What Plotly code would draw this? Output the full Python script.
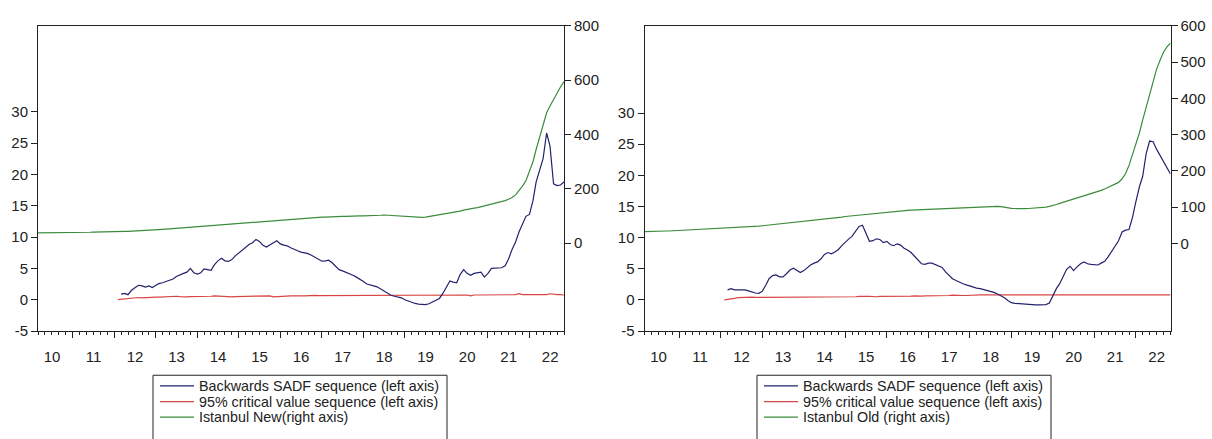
import pandas as pd
import plotly.graph_objects as go

# Monthly sample 2010M03 - 2022M11
months = pd.date_range("2010-03-01", "2022-11-01", freq="MS")

# Istanbul New house price index (right axis), 2010M03 onwards
new_price = [
    38, 38, 38, 38, 38.5, 39, 39, 39, 39, 39.5,
    39.5, 40, 40, 40, 40.5, 40.5, 41, 41, 41.5, 41.5, 42, 42,
    42.5, 43, 43, 43.5, 44, 44.5, 45, 45.5, 46, 46.5, 47, 48,
    49, 50, 51, 52, 53, 54, 55, 56, 57, 58, 58.5, 59,
    60, 61, 62, 63, 64, 65, 66, 67, 68, 69, 70, 71,
    72, 73, 74, 75, 76, 77, 78, 79, 80, 81, 82, 84,
    86, 87, 88, 89, 90, 90, 91, 92, 93, 94, 95, 95,
    96, 96, 97, 97, 98, 98, 99, 99, 100, 100, 100, 101,
    101, 101, 102, 102, 102, 103, 104, 103, 102, 101, 100, 99,
    98, 97, 97, 96, 95, 95, 96, 98, 100, 102, 104, 106,
    108, 110, 112, 115, 118, 122, 125, 127, 129, 131, 134, 137,
    140, 143, 146, 149, 152, 157, 162, 168, 178, 192, 210, 230,
    265, 300, 345, 390, 435, 480, 505, 530, 555, 575, 595,
]

# Backwards SADF sequence, Istanbul New, 2012M03 onwards
new_bsadf = [
    0.9, 1.0, 0.8, 1.5, 1.9, 2.3, 2.2, 2.0, 2.2, 1.95,
    2.3, 2.6, 2.7, 2.9, 3.0, 3.3, 3.7, 4.0, 4.2, 4.4, 5.0, 4.3,
    4.1, 4.3, 4.9, 4.8, 4.7, 5.6, 6.2, 6.6, 6.2, 6.1, 6.4, 7.0,
    7.5, 8.0, 8.4, 8.8, 9.1, 9.6, 9.3, 8.7, 8.4, 8.8, 9.1, 9.4,
    8.9, 8.7, 8.6, 8.3, 8.0, 7.8, 7.6, 7.5, 7.35, 7.1, 6.8, 6.5,
    6.15, 6.2, 6.3, 5.9, 5.3, 4.8, 4.6, 4.4, 4.2, 3.9, 3.6, 3.3,
    2.9, 2.5, 2.3, 2.2, 2.05, 1.7, 1.4, 1.0, 0.7, 0.55, 0.45, 0.3,
    0.0, -0.25, -0.45, -0.6, -0.7, -0.75, -0.8, -0.65, -0.4, -0.1, 0.2, 1.0,
    2.0, 3.0, 2.8, 2.7, 4.0, 4.8, 4.2, 3.9, 4.2, 4.3, 4.4, 3.6,
    4.2, 5.0, 5.0, 5.0, 5.1, 5.4, 6.5, 8.0, 9.2, 10.8, 12.0, 13.3,
    13.6, 15.8, 18.8, 20.8, 22.5, 26.6, 24.5, 18.5, 18.2, 18.3, 18.8,
]

# 95% critical value sequence, Istanbul New, 2012M02 onwards
new_cv = [
    0.0, 0.05, 0.15, 0.25, 0.3, 0.3, 0.35, 0.3, 0.35, 0.4, 0.35, 0.4,
    0.4, 0.45, 0.5, 0.45, 0.5, 0.55, 0.5, 0.45, 0.45, 0.5, 0.5, 0.45,
    0.45, 0.5, 0.5, 0.55, 0.6, 0.55, 0.5, 0.5, 0.45, 0.45, 0.5, 0.5,
    0.5, 0.55, 0.55, 0.6, 0.6, 0.55, 0.55, 0.6, 0.6, 0.45, 0.5, 0.55,
    0.55, 0.6, 0.6, 0.6, 0.65, 0.6, 0.6, 0.65, 0.7, 0.7, 0.65, 0.65,
    0.7, 0.75, 0.7, 0.7, 0.75, 0.75, 0.7, 0.7, 0.75, 0.75, 0.75, 0.7,
    0.75, 0.75, 0.7, 0.7, 0.75, 0.75, 0.75, 0.75, 0.7, 0.75, 0.75, 0.75,
    0.75, 0.75, 0.75, 0.75, 0.7, 0.75, 0.75, 0.75, 0.75, 0.75, 0.7, 0.75,
    0.75, 0.75, 0.75, 0.7, 0.75, 0.75, 0.6, 0.75, 0.75, 0.75, 0.75, 0.75,
    0.75, 0.75, 0.8, 0.8, 0.75, 0.75, 0.75, 0.8, 0.95, 0.8, 0.8, 0.8,
    0.8, 0.8, 0.8, 0.8, 0.8, 0.95, 0.85, 0.8, 0.8, 0.75,
]

# Istanbul Old house price index (right axis), 2010M03 onwards
old_price = [
    32.5, 33, 33, 33, 33.5, 33.5, 34, 34, 34.5, 34.5,
    35, 35.5, 36, 36, 36.5, 37, 37.5, 38, 38.5, 39, 39.5, 40.5,
    41, 41.5, 42, 42.5, 43, 43.5, 44, 44.5, 45, 45.5, 46.5, 47.5,
    48.5, 49.5, 50.5, 51.5, 52.5, 53.5, 54, 54.5, 55.5, 56.5, 57.5, 58.5,
    59.5, 60.5, 61.5, 62.5, 63.5, 64.5, 66, 67, 68, 69.5, 71, 72.5,
    74, 75, 76, 77, 78, 79, 80, 81, 82.5, 83.5, 85, 86,
    87, 88, 88.5, 89, 90, 90.5, 91, 91.5, 92, 92.5, 93, 93.5,
    94, 94.5, 95, 95.5, 96, 96.5, 97, 97, 97.5, 98, 98, 98.5,
    99, 99, 99.5, 100, 100, 100.5, 101, 101.5, 102, 101, 99, 97.5,
    96.5, 96, 95.5, 95.5, 95.5, 96, 96.5, 97, 98, 99, 100, 102,
    104, 107, 110, 113, 117, 120, 123, 126, 128, 131, 134, 137,
    139, 142, 146, 150, 154, 158, 162, 168, 178, 192, 215, 245,
    272, 305, 340, 375, 410, 445, 480, 505, 528, 542, 553,
]

# Backwards SADF sequence, Istanbul Old, 2012M03 onwards
old_bsadf = [
    1.6, 1.8, 1.6, 1.6, 1.7, 1.6, 1.45, 1.25, 1.1, 1.05,
    1.4, 2.4, 3.4, 3.9, 4.0, 3.7, 3.7, 4.2, 4.8, 5.1, 4.7, 4.4,
    4.7, 5.2, 5.6, 5.9, 6.1, 6.6, 7.3, 7.6, 7.4, 7.7, 8.1, 8.7,
    9.3, 9.8, 10.2, 11.0, 11.8, 12.0, 10.8, 9.4, 9.5, 9.8, 9.7, 9.2,
    9.4, 8.9, 8.7, 9.0, 8.8, 8.3, 8.0, 7.6, 7.0, 6.4, 5.8, 5.7,
    5.9, 5.9, 5.7, 5.5, 5.2, 4.5, 3.9, 3.4, 3.1, 2.8, 2.6, 2.4,
    2.2, 2.1, 1.9, 1.8, 1.65, 1.55, 1.4, 1.2, 0.95, 0.7, 0.35, -0.1,
    -0.45, -0.55, -0.6, -0.6, -0.65, -0.7, -0.8, -0.8, -0.8, -0.8, -0.75, -0.5,
    0.7, 1.8, 2.6, 3.8, 4.9, 5.4, 4.7, 5.3, 5.8, 6.1, 5.8, 5.7,
    5.6, 5.6, 5.9, 6.2, 6.9, 7.8, 8.5, 9.5, 10.9, 11.2, 11.3, 13.2,
    15.8, 18.2, 19.8, 23.5, 25.5, 25.4, 24.2, 23.2, 22.0, 21.0, 20.2,
]

# 95% critical value sequence, Istanbul Old, 2012M02 onwards
old_cv = [
    0.0, 0.05, 0.15, 0.25, 0.35, 0.4, 0.4, 0.4, 0.45, 0.4, 0.4, 0.45,
    0.4, 0.45, 0.45, 0.45, 0.5, 0.45, 0.45, 0.45, 0.5, 0.5, 0.45, 0.45,
    0.5, 0.45, 0.5, 0.45, 0.5, 0.5, 0.5, 0.45, 0.45, 0.5, 0.5, 0.45,
    0.45, 0.5, 0.5, 0.55, 0.5, 0.55, 0.55, 0.5, 0.5, 0.55, 0.55, 0.6,
    0.55, 0.55, 0.5, 0.55, 0.55, 0.6, 0.6, 0.65, 0.6, 0.6, 0.65, 0.65,
    0.6, 0.6, 0.65, 0.7, 0.7, 0.7, 0.75, 0.7, 0.7, 0.7, 0.7, 0.75,
    0.75, 0.8, 0.8, 0.8, 0.8, 0.8, 0.85, 0.8, 0.8, 0.8, 0.8, 0.8,
    0.8, 0.8, 0.8, 0.8, 0.8, 0.8, 0.8, 0.8, 0.8, 0.8, 0.8, 0.8,
    0.8, 0.8, 0.8, 0.8, 0.8, 0.8, 0.8, 0.8, 0.85, 0.85, 0.8, 0.8,
    0.8, 0.85, 0.8, 0.85, 0.85, 0.8, 0.85, 0.8, 0.8, 0.85, 0.85, 0.8,
    0.85, 0.85, 0.9, 0.8, 0.8, 0.85, 0.9, 0.85, 0.8, 0.8,
]

left_ticks = [-5, 0, 5, 10, 15, 20, 25, 30]
left_tick_text = ["-5", "0", "5", "10", "15", "20", "25", "30"]
new_right_ticks = [0, 200, 400, 600, 800]
old_right_ticks = [0, 100, 200, 300, 400, 500, 600]

legend_labels_new = [
    "Backwards SADF sequence (left axis)",
    "95% critical value sequence (left axis)",
    "Istanbul New(right axis)",
]
legend_labels_old = [
    "Backwards SADF sequence (left axis)",
    "95% critical value sequence (left axis)",
    "Istanbul Old (right axis)",
]

BLUE = "#22226e"
RED = "#d94545"
GREEN = "#3b8c3b"
INK = "#222222"
FONT = "Liberation Sans, Arial, sans-serif"

W, H = 1212, 439

bsadf_dates = months[24:]
cv_dates = months[23:]

fig = go.Figure()

# Left panel: Istanbul New
fig.add_trace(go.Scatter(x=months, y=new_price, xaxis="x", yaxis="y2",
                         mode="lines", line=dict(color=GREEN, width=1.2),
                         name=legend_labels_new[2]))
fig.add_trace(go.Scatter(x=cv_dates, y=new_cv, xaxis="x", yaxis="y",
                         mode="lines", line=dict(color=RED, width=1.2),
                         name=legend_labels_new[1]))
fig.add_trace(go.Scatter(x=bsadf_dates, y=new_bsadf, xaxis="x", yaxis="y",
                         mode="lines", line=dict(color=BLUE, width=1.2),
                         name=legend_labels_new[0]))

# Right panel: Istanbul Old
fig.add_trace(go.Scatter(x=months, y=old_price, xaxis="x2", yaxis="y4",
                         mode="lines", line=dict(color=GREEN, width=1.2),
                         name=legend_labels_old[2]))
fig.add_trace(go.Scatter(x=cv_dates, y=old_cv, xaxis="x2", yaxis="y3",
                         mode="lines", line=dict(color=RED, width=1.2),
                         name=legend_labels_old[1]))
fig.add_trace(go.Scatter(x=bsadf_dates, y=old_bsadf, xaxis="x2", yaxis="y3",
                         mode="lines", line=dict(color=BLUE, width=1.2),
                         name=legend_labels_old[0]))

ydom = [1 - 335.0 / H, 1 - 17.5 / H]
tickfont = dict(family=FONT, size=15, color=INK)


def xaxis_cfg(domain, anchor):
    return dict(
        domain=domain, anchor=anchor, type="date",
        range=[months[0], months[-1]],
        showline=True, linecolor=INK, linewidth=1, mirror=True,
        showgrid=False, zeroline=False,
        ticks="outside", ticklen=6, tickcolor=INK,
        dtick="M12", tick0="2010-01-01", tickformat="%y",
        ticklabelmode="period", tickfont=tickfont, ticklabelstandoff=6,
        minor=dict(ticks="outside", ticklen=3, tickcolor=INK,
                   dtick="M2", tick0="2010-01-01", showgrid=False),
    )


def left_y(anchor, rng):
    return dict(
        domain=ydom, anchor=anchor, range=rng,
        tickmode="array", tickvals=left_ticks, ticktext=left_tick_text,
        showline=True, linecolor=INK, linewidth=1, mirror=True,
        showgrid=False, zeroline=False,
        ticks="outside", ticklen=6, tickcolor=INK, tickfont=tickfont,
    )


def right_y(anchor, over, rng, vals):
    return dict(
        anchor=anchor, overlaying=over, side="right", range=rng,
        tickmode="array", tickvals=vals,
        showline=True, linecolor=INK, linewidth=1,
        showgrid=False, zeroline=False,
        ticks="outside", ticklen=6, tickcolor=INK, tickfont=tickfont,
    )


fig.update_layout(
    width=W, height=H,
    margin=dict(l=0, r=0, t=0, b=0),
    paper_bgcolor="white", plot_bgcolor="white",
    showlegend=False,
    font=dict(family=FONT, size=14, color=INK),
    xaxis=xaxis_cfg([38 / W, 564 / W], "y"),
    yaxis=left_y("x", [-5, 43.7]),
    yaxis2=right_y("x", "y", [-323, 800], new_right_ticks),
    xaxis2=xaxis_cfg([644.5 / W, 1170.5 / W], "y3"),
    yaxis3=left_y("x2", [-5, 44.0]),
    yaxis4=right_y("x2", "y3", [-242, 600], old_right_ticks),
)

# Legend boxes drawn beneath each panel
shapes = []
annotations = []
row_y = [392, 408.5, 424.5]
colors = [BLUE, RED, GREEN]
for box_x0, labels in ((153, legend_labels_new), (757, legend_labels_old)):
    shapes.append(dict(type="rect", xref="paper", yref="paper",
                       x0=box_x0 / W, x1=(box_x0 + 294) / W,
                       y0=1 - 381 / H, y1=1 - 450 / H,
                       line=dict(color=INK, width=1), fillcolor="white",
                       layer="above"))
    for ry, col, lab in zip(row_y, colors, labels):
        shapes.append(dict(type="line", xref="paper", yref="paper",
                           x0=(box_x0 + 7) / W, x1=(box_x0 + 41) / W,
                           y0=1 - ry / H, y1=1 - ry / H,
                           line=dict(color=col, width=1.2), layer="above"))
        annotations.append(dict(xref="paper", yref="paper",
                                x=(box_x0 + 44) / W, y=1 - ry / H,
                                xanchor="left", yanchor="middle",
                                text=lab, showarrow=False,
                                font=dict(family=FONT, size=14.3, color=INK)))

fig.update_layout(shapes=shapes, annotations=annotations)

fig.write_html("out.html")
